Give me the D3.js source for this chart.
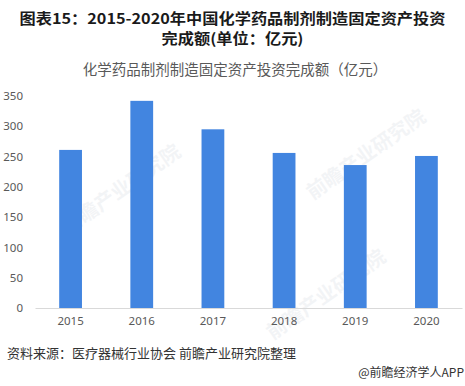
<!DOCTYPE html>
<html>
<head>
<meta charset="utf-8">
<script src="https://cdn.jsdelivr.net/npm/d3@7"></script>
<style>
  body { margin: 0; background: #fff; }
  text { font-family: "Noto Sans CJK SC", "Noto Sans", sans-serif; }
</style>
</head>
<body>
<div id="graf"></div>
<script>
// datos
const anios = ["2015", "2016", "2017", "2018", "2019", "2020"]
const valores = [261, 342, 295, 256, 236, 251]
const ticksY = [0, 50, 100, 150, 200, 250, 300, 350]

const titulo1 = "图表15：2015-2020年中国化学药品制剂制造固定资产投资"
const titulo2 = "完成额(单位：亿元)"
const subtitulo = "化学药品制剂制造固定资产投资完成额（亿元）"
const fuente = "资料来源：医疗器械行业协会 前瞻产业研究院整理"
const marca = "@前瞻经济学人APP"

const anchoTotal = 465
const altoTotal = 386
const margins = { top: 96, right: 3, bottom: 78, left: 35 }
const ancho = anchoTotal - margins.left - margins.right
const alto = altoTotal - margins.top - margins.bottom

const svg = d3.select("#graf")
  .append("svg")
  .attr("width", anchoTotal)
  .attr("height", altoTotal)

// marcas de agua tenues
const wm = [[125, 195], [370, 160], [330, 300]]
wm.forEach(([x, y]) => {
  svg.append("text")
    .attr("transform", `translate(${x},${y}) rotate(-35)`)
    .attr("text-anchor", "middle")
    .attr("font-size", 20)
    .attr("font-weight", "bold")
    .attr("fill", "#1f3a60")
    .attr("opacity", 0.05)
    .text("前瞻产业研究院")
})

// titulos
svg.append("text")
  .attr("x", anchoTotal / 2).attr("y", 24)
  .attr("text-anchor", "middle")
  .attr("font-size", 14.5).attr("font-weight", "bold")
  .attr("textLength", 426).attr("lengthAdjust", "spacingAndGlyphs")
  .attr("fill", "#1a1a1a")
  .text(titulo1)
svg.append("text")
  .attr("x", anchoTotal / 2).attr("y", 44)
  .attr("text-anchor", "middle")
  .attr("font-size", 14.5).attr("font-weight", "bold")
  .attr("textLength", 142).attr("lengthAdjust", "spacingAndGlyphs")
  .attr("fill", "#1a1a1a")
  .text(titulo2)
svg.append("text")
  .attr("x", 235).attr("y", 75)
  .attr("text-anchor", "middle")
  .attr("font-size", 14.5)
  .attr("fill", "#595959")
  .text(subtitulo)

const g = svg.append("g")
  .attr("transform", `translate(${margins.left}, ${margins.top})`)

// escaladores
const x = d3.scaleBand()
  .domain(anios)
  .range([0, ancho])
  .paddingInner(0.68)
  .paddingOuter(0.34)

const y = d3.scaleLinear()
  .domain([0, 350])
  .range([alto, 0])

// barras
g.selectAll("rect.bar")
  .data(valores)
  .enter()
  .append("rect")
  .attr("class", "bar")
  .attr("x", (d, i) => x(anios[i]))
  .attr("y", d => y(d))
  .attr("width", x.bandwidth())
  .attr("height", d => alto - y(d))
  .attr("fill", "#4285E0")

// eje X
const xAxisGroup = g.append("g")
  .attr("transform", `translate(0, ${alto})`)
  .call(d3.axisBottom(x).tickSize(0).tickPadding(9))
xAxisGroup.select(".domain").attr("stroke", "#d9d9d9")
xAxisGroup.selectAll("text")
  .attr("font-size", 11.5).attr("fill", "#595959")
  .style("font-family", "'Noto Sans', sans-serif")

// eje Y
const yAxisGroup = g.append("g")
  .call(d3.axisLeft(y).tickValues(ticksY).tickSize(0).tickPadding(12))
yAxisGroup.select(".domain").remove()
yAxisGroup.selectAll("text")
  .attr("font-size", 11.5).attr("fill", "#595959")
  .style("font-family", "'Noto Sans', sans-serif")

// fuente
svg.append("text")
  .attr("x", 7).attr("y", 358)
  .attr("font-size", 13)
  .attr("fill", "#333")
  .text(fuente)
svg.append("text")
  .attr("x", 464).attr("y", 377)
  .attr("text-anchor", "end")
  .attr("font-size", 12)
  .attr("fill", "#333")
  .text(marca)
</script>
</body>
</html>
